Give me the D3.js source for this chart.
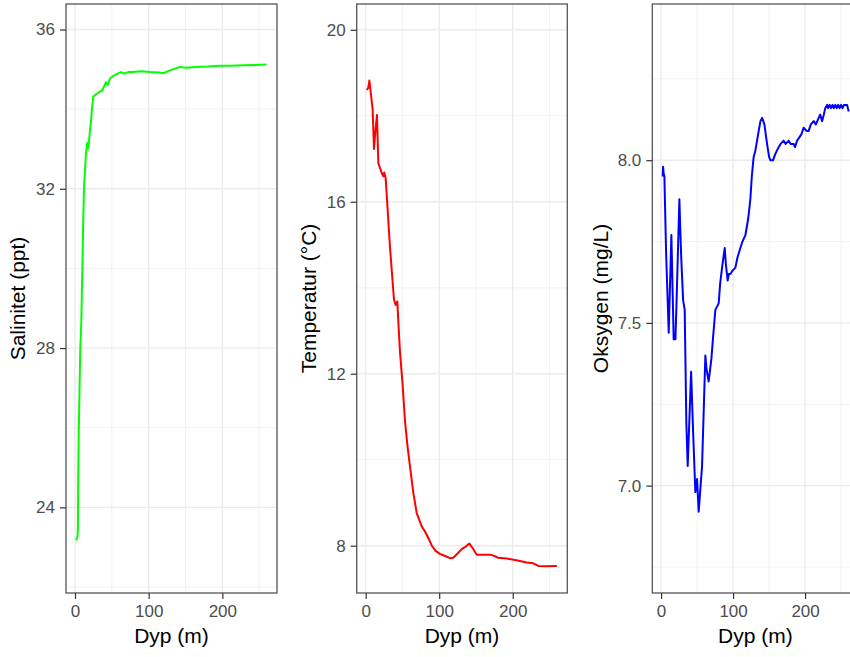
<!DOCTYPE html>
<html>
<head>
<meta charset="utf-8">
<script src="https://cdn.jsdelivr.net/npm/d3@7"></script>
<style>
  html, body { margin: 0; padding: 0; background: #fff; }
  svg { display: block; }
  text { font-family: "Liberation Sans", Arial, Helvetica, sans-serif; }
</style>
</head>
<body>
<script>
// ---------- data ----------
const salDepth = [1.5, 3.5, 4, 4.3, 5, 6, 7.2, 8.5, 10, 11, 12.2, 14, 15, 16.5, 17.5, 18.6, 20, 21.7, 23, 24.8, 28.5, 33, 36.6, 39, 42.1, 44.4, 47.5, 51, 55.6, 62.4, 66.9, 72, 78.3, 90, 101.8, 114.4, 119.8, 130, 142.5, 151.6, 165, 180, 196.7, 210, 230, 245, 260];
const salValue = [23.17, 23.27, 23.5, 24.5, 25.8, 26.8, 28.0, 28.6, 30.0, 31.0, 32.0, 32.6, 32.9, 33.15, 33.0, 33.1, 33.4, 33.7, 34.0, 34.31, 34.37, 34.43, 34.47, 34.55, 34.68, 34.6, 34.77, 34.82, 34.87, 34.93, 34.89, 34.93, 34.93, 34.95, 34.93, 34.92, 34.9, 34.98, 35.06, 35.04, 35.06, 35.07, 35.09, 35.09, 35.1, 35.11, 35.12];

const tempDepth = [1.5, 3.5, 5, 6.5, 9.5, 11.3, 13, 15.4, 17.2, 21.8, 24, 25.3, 27.2, 33, 38.5, 40.8, 43, 45, 46.7, 50, 53.5, 57, 60.3, 64.8, 69.4, 72.9, 76.2, 80.7, 85.2, 90, 95, 101, 108, 114.7, 119, 125, 130.6, 136, 141, 145.6, 151, 160, 170, 174, 180, 192, 205, 219, 228, 234.8, 245, 260];
const tempValue = [18.6, 18.65, 18.82, 18.6, 18.14, 17.23, 17.6, 18.02, 16.9, 16.67, 16.59, 16.68, 16.55, 14.96, 13.72, 13.6, 13.68, 13.02, 12.5, 11.8, 10.9, 10.3, 9.84, 9.23, 8.76, 8.6, 8.45, 8.33, 8.18, 8.0, 7.88, 7.81, 7.76, 7.71, 7.72, 7.82, 7.92, 7.98, 8.05, 7.94, 7.79, 7.79, 7.79, 7.77, 7.72, 7.7, 7.66, 7.61, 7.59, 7.53, 7.52, 7.53];

const oxyDepth = [2.2, 2.8, 3.5, 4.6, 6.9, 10.6, 14.3, 17.5, 19.9, 21.3, 25.4, 26.5, 27.8, 30.6, 32.8, 35.1, 37, 41.7, 44.4, 47.6, 50, 52.2, 56.9, 61.5, 63, 66.1, 69.9, 72, 75.4, 80, 82, 84.7, 86.5, 88.4, 90, 92.5, 94, 96.3, 99, 103.2, 106, 110.1, 113, 117.1, 121, 124, 126, 128.6, 131, 135.6, 138, 140.3, 143.5, 147.2, 150, 151.8, 155.6, 158.8, 161, 163.3, 166, 170.3, 173, 177.2, 180, 184.2, 186, 188.9, 192, 195, 198, 202, 205, 208, 212, 215, 218.9, 221, 223.6, 226, 228, 230.6, 232, 234, 236, 238, 240, 242, 244, 246, 248, 250, 252, 254, 256, 258.3, 260.6];
const oxyValue = [7.95, 7.98, 7.96, 7.95, 7.72, 7.47, 7.77, 7.45, 7.45, 7.55, 7.88, 7.80, 7.71, 7.57, 7.54, 7.19, 7.06, 7.35, 7.17, 6.98, 7.02, 6.92, 7.06, 7.40, 7.36, 7.32, 7.39, 7.45, 7.54, 7.56, 7.62, 7.67, 7.70, 7.73, 7.68, 7.63, 7.65, 7.65, 7.66, 7.67, 7.70, 7.73, 7.75, 7.77, 7.82, 7.88, 7.95, 8.01, 8.03, 8.09, 8.12, 8.13, 8.11, 8.05, 8.01, 8.00, 8.00, 8.02, 8.03, 8.04, 8.05, 8.06, 8.05, 8.06, 8.05, 8.05, 8.04, 8.06, 8.07, 8.08, 8.10, 8.09, 8.09, 8.11, 8.12, 8.11, 8.13, 8.14, 8.12, 8.14, 8.16, 8.17, 8.16, 8.17, 8.16, 8.17, 8.16, 8.17, 8.16, 8.17, 8.16, 8.17, 8.16, 8.17, 8.17, 8.17, 8.15];

const xTicks = [0, 100, 200];
const xMinor = [50, 150, 250];
const salTicks = [24, 28, 32, 36];
const salMinor = [22, 26, 30, 34];
const tempTicks = [8, 12, 16, 20];
const tempMinor = [10, 14, 18];
const oxyTicks = [7.0, 7.5, 8.0];
const oxyMinor = [6.75, 7.25, 7.75, 8.25];

const xTitle = "Dyp (m)";

// ---------- layout ----------
const W = 850, H = 657;
const svg = d3.select("body").append("svg").attr("width", W).attr("height", H);
svg.append("rect").attr("width", W).attr("height", H).attr("fill", "#fff");

const panels = [
  { depth: salDepth, value: salValue, color: "#00FF00", title: "Salinitet (ppt)",
    left: 66, right: 277, yDom: [21.85, 36.64], ticks: salTicks, minor: salMinor, fmt: d3.format("d"), titleX: 18 },
  { depth: tempDepth, value: tempValue, color: "#FF0000", title: "Temperatur (°C)",
    left: 356.7, right: 567.3, yDom: [6.9, 20.6], ticks: tempTicks, minor: tempMinor, fmt: d3.format("d"), titleX: 308.5 },
  { depth: oxyDepth, value: oxyValue, color: "#0000FF", title: "Oksygen (mg/L)",
    left: 652.3, right: 858.5, yDom: [6.67, 8.48], ticks: oxyTicks, minor: oxyMinor, fmt: d3.format(".1f"), titleX: 601 }
];
const pTop = 4, pBottom = 593;
const xDom = [-12.2, 274.2];

panels.forEach(p => {
  const x = d3.scaleLinear().domain(xDom).range([p.left, p.right]);
  const y = d3.scaleLinear().domain(p.yDom).range([pBottom, pTop]);
  const g = svg.append("g");

  g.append("rect").attr("x", p.left).attr("y", pTop)
    .attr("width", p.right - p.left).attr("height", pBottom - pTop).attr("fill", "#fff");

  // minor grid
  g.selectAll(".vmin").data(xMinor).join("line").attr("class", "vmin")
    .attr("x1", d => x(d)).attr("x2", d => x(d)).attr("y1", pTop).attr("y2", pBottom)
    .attr("stroke", "#F0F0F0").attr("stroke-width", 0.9);
  g.selectAll(".hmin").data(p.minor).join("line").attr("class", "hmin")
    .attr("x1", p.left).attr("x2", p.right).attr("y1", d => y(d)).attr("y2", d => y(d))
    .attr("stroke", "#F0F0F0").attr("stroke-width", 0.9);
  // major grid
  g.selectAll(".vmaj").data(xTicks).join("line").attr("class", "vmaj")
    .attr("x1", d => x(d)).attr("x2", d => x(d)).attr("y1", pTop).attr("y2", pBottom)
    .attr("stroke", "#EBEBEB").attr("stroke-width", 1.4);
  g.selectAll(".hmaj").data(p.ticks).join("line").attr("class", "hmaj")
    .attr("x1", p.left).attr("x2", p.right).attr("y1", d => y(d)).attr("y2", d => y(d))
    .attr("stroke", "#EBEBEB").attr("stroke-width", 1.4);

  // line
  const pts = p.depth.map((d, i) => [d, p.value[i]]);
  g.append("path").datum(pts)
    .attr("d", d3.line().x(d => x(d[0])).y(d => y(d[1])))
    .attr("fill", "none").attr("stroke", p.color).attr("stroke-width", 2)
    .attr("stroke-linejoin", "round");

  // border
  g.append("rect").attr("x", p.left).attr("y", pTop)
    .attr("width", p.right - p.left).attr("height", pBottom - pTop)
    .attr("fill", "none").attr("stroke", "#555").attr("stroke-width", 1.3);

  // axes
  const ax = g.append("g").attr("transform", `translate(0,${pBottom})`)
    .call(d3.axisBottom(x).tickValues(xTicks).tickSize(6).tickPadding(6).tickFormat(d3.format("d")));
  const ay = g.append("g").attr("transform", `translate(${p.left},0)`)
    .call(d3.axisLeft(y).tickValues(p.ticks).tickSize(6).tickPadding(5).tickFormat(p.fmt));
  [ax, ay].forEach(a => {
    a.select(".domain").remove();
    a.selectAll(".tick line").attr("stroke", "#333").attr("stroke-width", 1.2);
    a.selectAll(".tick text").attr("fill", "#4D4D4D").style("font-size", "17px")
      .style("font-family", "'Liberation Sans', Arial, sans-serif");
  });

  // titles
  g.append("text").attr("x", (p.left + p.right) / 2)
    .attr("y", 643).attr("text-anchor", "middle").attr("fill", "#000")
    .style("font-size", "21px").text(xTitle);
  g.append("text")
    .attr("transform", `translate(${p.titleX},${(pTop + pBottom) / 2}) rotate(-90)`)
    .attr("text-anchor", "middle").attr("dy", "0.35em").attr("fill", "#000")
    .style("font-size", "21px").text(p.title);
});
</script>
</body>
</html>
